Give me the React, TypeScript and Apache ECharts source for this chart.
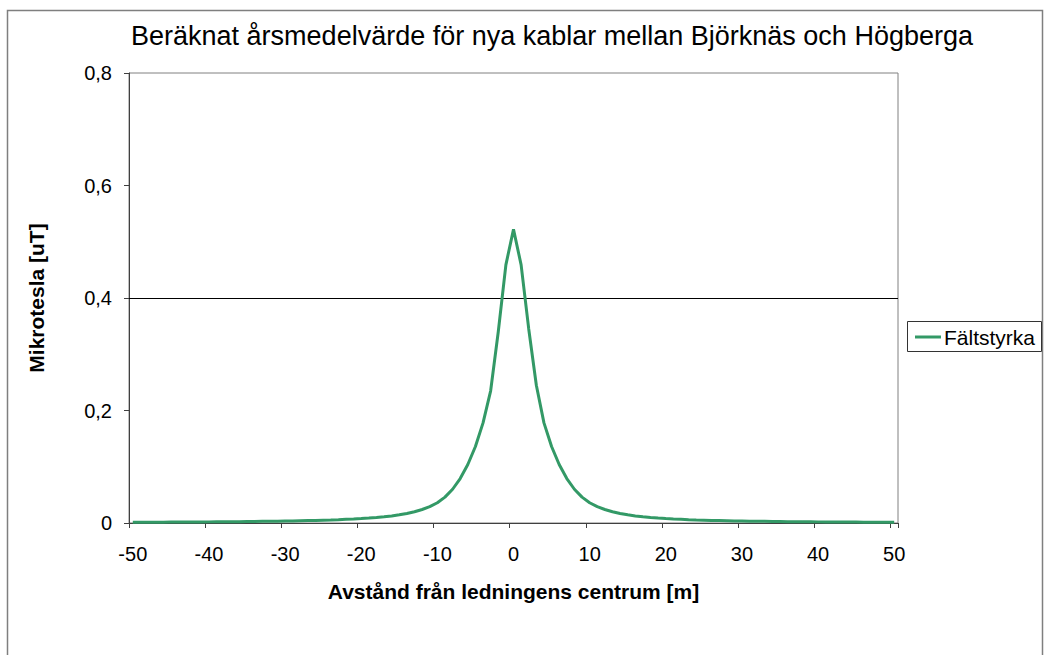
import React, { useEffect, useRef } from "react";
import * as echarts from "echarts";

const categories: string[] = [
  "-50","-49","-48","-47","-46","-45","-44","-43","-42","-41",
  "-40","-39","-38","-37","-36","-35","-34","-33","-32","-31",
  "-30","-29","-28","-27","-26","-25","-24","-23","-22","-21",
  "-20","-19","-18","-17","-16","-15","-14","-13","-12","-11",
  "-10","-9","-8","-7","-6","-5","-4","-3","-2","-1",
  "0",
  "1","2","3","4","5","6","7","8","9","10",
  "11","12","13","14","15","16","17","18","19","20",
  "21","22","23","24","25","26","27","28","29","30",
  "31","32","33","34","35","36","37","38","39","40",
  "41","42","43","44","45","46","47","48","49","50",
];

const faltstyrka: number[] = [
  0.0013, 0.0013, 0.0014, 0.0014, 0.0015, 0.0016, 0.0016, 0.0017, 0.0018, 0.0019,
  0.0020, 0.0021, 0.0022, 0.0023, 0.0024, 0.0026, 0.0027, 0.0029, 0.0031, 0.0033,
  0.0035, 0.0037, 0.0040, 0.0043, 0.0046, 0.0050, 0.0054, 0.0059, 0.0065, 0.0071,
  0.0078, 0.0087, 0.0097, 0.011, 0.0125, 0.0145, 0.017, 0.020, 0.024, 0.029,
  0.036, 0.046, 0.060, 0.079, 0.104, 0.136, 0.178, 0.235, 0.340, 0.459,
  0.522,
  0.459, 0.345, 0.245, 0.178, 0.136, 0.104, 0.079, 0.060, 0.046, 0.036,
  0.029, 0.024, 0.020, 0.017, 0.0145, 0.0125, 0.011, 0.0097, 0.0087, 0.0078,
  0.0071, 0.0065, 0.0059, 0.0054, 0.0050, 0.0046, 0.0043, 0.0040, 0.0037, 0.0035,
  0.0033, 0.0031, 0.0029, 0.0027, 0.0026, 0.0024, 0.0023, 0.0022, 0.0021, 0.0020,
  0.0019, 0.0018, 0.0017, 0.0016, 0.0016, 0.0015, 0.0014, 0.0014, 0.0013, 0.0013,
];

const titleText = "Beräknat årsmedelvärde för nya kablar mellan Björknäs och Högberga";
const yName = "Mikrotesla [uT]";
const xName = "Avstånd från ledningens centrum [m]";
const seriesName = "Fältstyrka";
const gridLineValue = 0.4;

const FONT = "'Liberation Sans', Arial, sans-serif";
const GREEN = "#339966";

export default function App() {
  const ref = useRef<HTMLDivElement>(null);
  useEffect(() => {
    if (!ref.current) return;
    const chart = echarts.init(ref.current, undefined, { renderer: "svg" });
    chart.setOption({
      animation: false,
      backgroundColor: "#ffffff",
      textStyle: { fontFamily: FONT },
      title: {
        text: titleText,
        left: 547,
        top: 17,
        textAlign: "center",
        textStyle: { fontFamily: FONT, fontSize: 27, fontWeight: "normal", color: "#000" },
      },
      graphic: [
        {
          type: "rect",
          shape: { x: 7.5, y: 10.5, width: 1035, height: 670 },
          style: { fill: "none", stroke: "#7f7f7f", lineWidth: 1.5 },
          silent: true,
          z: -1,
        },
        {
          type: "rect",
          shape: { x: 907.5, y: 321.5, width: 134, height: 30 },
          style: { fill: "#fff", stroke: "#333", lineWidth: 1 },
          silent: true,
        },
        {
          type: "line",
          shape: { x1: 915, y1: 337, x2: 941, y2: 337 },
          style: { stroke: GREEN, lineWidth: 3 },
          silent: true,
        },
        {
          type: "text",
          x: 944,
          y: 337,
          style: {
            text: seriesName,
            fontFamily: FONT,
            fontSize: 21,
            fill: "#000",
            verticalAlign: "middle",
            align: "left",
          },
          silent: true,
        },
      ],
      grid: {
        left: 129,
        right: 150,
        top: 73,
        bottom: 132,
        show: true,
        borderColor: "#808080",
        borderWidth: 1,
        containLabel: false,
      },
      xAxis: {
        type: "category",
        data: categories,
        boundaryGap: true,
        name: xName,
        nameLocation: "middle",
        nameGap: 58,
        nameTextStyle: { fontFamily: FONT, fontSize: 21, fontWeight: "bold", color: "#000" },
        axisLine: { lineStyle: { color: "#404040", width: 1 } },
        axisTick: { show: true, interval: 9, alignWithLabel: false, length: 5, lineStyle: { color: "#404040" } },
        axisLabel: {
          interval: 9,
          margin: 21,
          fontFamily: FONT,
          fontSize: 20,
          color: "#000",
        },
        splitLine: { show: false },
      },
      yAxis: {
        type: "value",
        min: 0,
        max: 0.8,
        interval: 0.2,
        name: yName,
        nameLocation: "middle",
        nameGap: 82,
        nameRotate: 90,
        nameTextStyle: { fontFamily: FONT, fontSize: 21, fontWeight: "bold", color: "#000" },
        axisLine: { show: true, lineStyle: { color: "#404040", width: 1 } },
        axisTick: { show: true, length: 5, lineStyle: { color: "#404040" } },
        axisLabel: {
          margin: 17,
          fontFamily: FONT,
          fontSize: 20,
          color: "#000",
          formatter: (v: number) => String(Number(v.toFixed(1))).replace(".", ","),
        },
        splitLine: { show: false },
      },
      series: [
        {
          name: seriesName,
          type: "line",
          data: faltstyrka,
          showSymbol: false,
          symbol: "none",
          lineStyle: { color: GREEN, width: 3 },
          itemStyle: { color: GREEN },
          z: 3,
          markLine: {
            silent: true,
            symbol: "none",
            label: { show: false },
            lineStyle: { color: "#000", width: 1, type: "solid" },
            data: [{ yAxis: gridLineValue }],
            z: 1,
          },
        },
      ],
    });
    return () => chart.dispose();
  }, []);
  return (
    <div
      ref={ref}
      style={{ position: "absolute", left: 0, top: 0, width: 1048, height: 655 }}
    />
  );
}
